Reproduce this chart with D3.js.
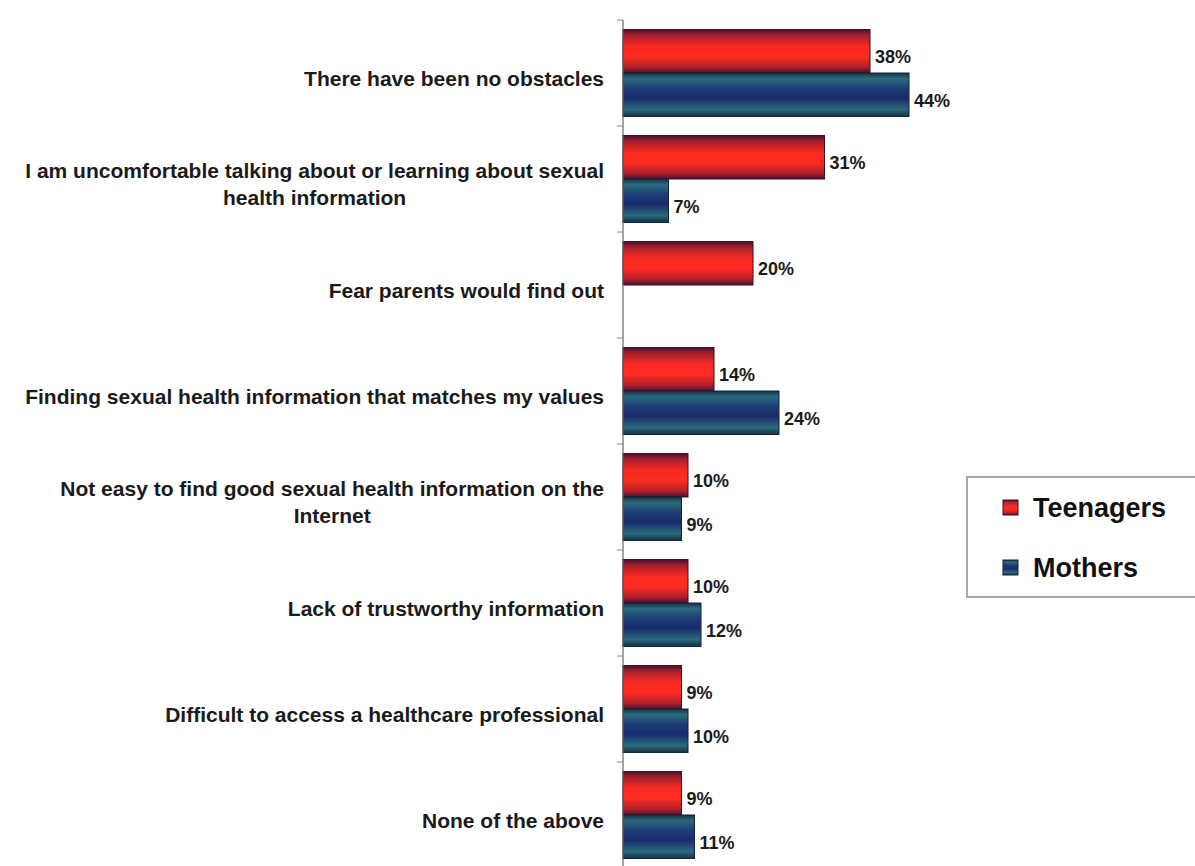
<!DOCTYPE html>
<html>
<head>
<meta charset="utf-8">
<script src="https://cdn.jsdelivr.net/npm/d3@7"></script>
<style>
  html, body { margin: 0; padding: 0; background: #ffffff; }
  svg { display: block; font-family: "Liberation Sans", Arial, sans-serif; }
</style>
</head>
<body>
<svg id="chart" width="1195" height="866"></svg>
<script>
// Obstacles to finding sexual health information (% of respondents)
const categories = [
  "There have been no obstacles",
  "I am uncomfortable talking about or learning about sexual health information",
  "Fear parents would find out",
  "Finding sexual health information that matches my values",
  "Not easy to find good sexual health information on the Internet",
  "Lack of trustworthy information",
  "Difficult to access a healthcare professional",
  "None of the above"
];
const seriesNames = ["Teenagers", "Mothers"];
const teenagers = [38, 31, 20, 14, 10, 10, 9, 9];
const mothers   = [44, 7, null, 24, 9, 12, 10, 11];

const rows = categories.map((c, i) => ({
  category: c,
  values: [
    { series: "Teenagers", value: teenagers[i] },
    { series: "Mothers", value: mothers[i] }
  ]
}));

const svg = d3.select("#chart");
const axisX = 623;

const x = d3.scaleLinear().domain([0, 50]).range([axisX, axisX + 325]);
const y = d3.scaleBand().domain(categories).range([20, 868])
  .paddingInner(0.18).paddingOuter(0.09);
const ySub = d3.scaleBand().domain(seriesNames).range([0, y.bandwidth()]);

// vertical gradients giving the bars their rounded, shaded look
const defs = svg.append("defs");
const grads = {
  Teenagers: [[0, "#4a1230"], [0.14, "#a8202c"], [0.38, "#f72a22"], [0.62, "#ff2c22"], [0.86, "#b3202a"], [1, "#4a1230"]],
  Mothers:   [[0, "#173048"], [0.13, "#2a6b7c"], [0.36, "#1d3d76"], [0.58, "#1a2a6c"], [0.84, "#2a6a7c"], [1, "#173048"]]
};
Object.entries(grads).forEach(([name, stops]) => {
  const g = defs.append("linearGradient").attr("id", "grad-" + name)
    .attr("x1", 0).attr("y1", 0).attr("x2", 0).attr("y2", 1);
  stops.forEach(([o, c]) => g.append("stop").attr("offset", o).attr("stop-color", c));
});
const strokeCol = { Teenagers: "#3a0f1e", Mothers: "#122236" };

// bars
const groups = svg.append("g").selectAll("g").data(rows).join("g")
  .attr("transform", d => `translate(0,${y(d.category)})`);

groups.selectAll("rect").data(d => d.values.filter(v => v.value != null)).join("rect")
  .attr("x", x(0))
  .attr("y", d => ySub(d.series))
  .attr("width", d => x(d.value) - x(0))
  .attr("height", ySub.bandwidth())
  .attr("fill", d => `url(#grad-${d.series})`)
  .attr("stroke", d => strokeCol[d.series])
  .attr("stroke-width", 1);

groups.selectAll("text.val").data(d => d.values.filter(v => v.value != null)).join("text")
  .attr("class", "val")
  .attr("x", d => x(d.value) + 5)
  .attr("y", d => ySub(d.series) + ySub.bandwidth() / 2 + 6)
  .attr("dominant-baseline", "central")
  .attr("font-size", 18)
  .attr("font-weight", "bold")
  .attr("fill", "#1a1a1a")
  .text(d => d.value + "%");

// axis line with ticks at the category boundaries
const step = y.step();
const top0 = y.range()[0];
const axis = svg.append("g");
axis.append("line")
  .attr("x1", axisX).attr("x2", axisX)
  .attr("y1", top0).attr("y2", y.range()[1])
  .attr("stroke", "#666").attr("stroke-width", 1.2);
axis.selectAll("line.tick").data(d3.range(categories.length + 1)).join("line")
  .attr("class", "tick")
  .attr("x1", axisX - 6).attr("x2", axisX)
  .attr("y1", i => top0 + i * step).attr("y2", i => top0 + i * step)
  .attr("stroke", "#888").attr("stroke-width", 1);

// category labels, word-wrapped and right aligned against the axis
const labelRight = 604, wrapWidth = 600, lineH = 27, fs = 21;
const labels = svg.append("g")
  .attr("font-size", fs).attr("font-weight", "bold").attr("fill", "#1a1a1a");

categories.forEach(cat => {
  const t = labels.append("text");
  const measure = s => { t.text(s); return t.node().getComputedTextLength(); };
  const words = cat.split(" ");
  const lines = [];
  let cur = "";
  words.forEach(w => {
    const trial = cur ? cur + " " + w : w;
    if (cur && measure(trial) > wrapWidth) { lines.push(cur); cur = w; }
    else cur = trial;
  });
  lines.push(cur);
  const widths = lines.map(measure);
  t.text(null);
  const maxW = d3.max(widths);
  const cy = y(cat) + y.bandwidth() / 2 + 5;
  const y0 = cy - (lines.length - 1) * lineH / 2;
  if (lines.length === 1) {
    t.attr("x", labelRight).attr("y", cy).attr("text-anchor", "end")
      .attr("dominant-baseline", "central").text(lines[0]);
  } else {
    t.attr("text-anchor", "middle");
    lines.forEach((ln, i) => {
      t.append("tspan").attr("x", labelRight - maxW / 2).attr("y", y0 + i * lineH)
        .attr("dominant-baseline", "central").text(ln);
    });
  }
});

// legend
const legend = svg.append("g");
legend.append("rect")
  .attr("x", 967).attr("y", 477).attr("width", 260).attr("height", 120)
  .attr("fill", "#fff").attr("stroke", "#8a8a8a").attr("stroke-width", 1.5);
const legendY = d3.scalePoint().domain(seriesNames).range([508, 568]);
const li = legend.selectAll("g.item").data(seriesNames).join("g").attr("class", "item");
li.append("rect")
  .attr("x", 1003).attr("y", d => legendY(d) - 8).attr("width", 15).attr("height", 15)
  .attr("fill", d => `url(#grad-${d})`).attr("stroke", d => strokeCol[d]);
li.append("text")
  .attr("x", 1033).attr("y", d => legendY(d))
  .attr("dominant-baseline", "central")
  .attr("font-size", 27).attr("font-weight", "bold").attr("fill", "#111")
  .text(d => d);
</script>
</body>
</html>
